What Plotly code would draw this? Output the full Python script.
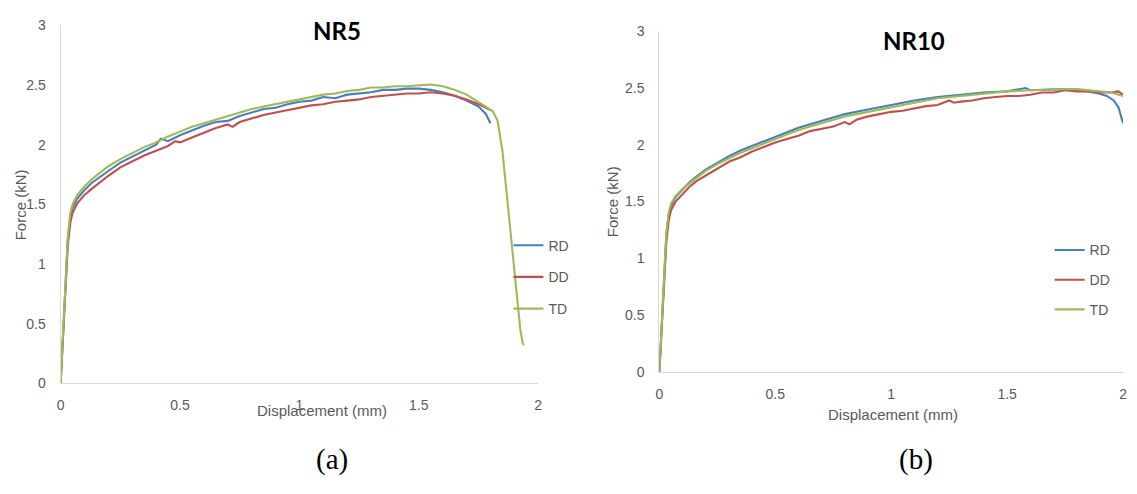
import plotly.graph_objects as go

# ---------------- data ----------------
series_names = ["RD", "DD", "TD"]
colors = ["#4a7ebb", "#c0504d", "#9bbb59"]

x_ticks = [0, 0.5, 1, 1.5, 2]
x_tick_labels = ["0", "0.5", "1", "1.5", "2"]
y_ticks = [0, 0.5, 1, 1.5, 2, 2.5, 3]
y_tick_labels = ["0", "0.5", "1", "1.5", "2", "2.5", "3"]

# NR5
nr5_rd_x = [0, 0.01, 0.02, 0.03, 0.04, 0.05, 0.07, 0.1, 0.13, 0.16, 0.2, 0.25, 0.3, 0.35, 0.4, 0.42, 0.45, 0.5, 0.55, 0.6,
            0.65, 0.7, 0.75, 0.8, 0.85, 0.9, 0.95, 1.0, 1.05, 1.1, 1.15, 1.2, 1.25, 1.3, 1.35, 1.4, 1.45, 1.5,
            1.55, 1.6, 1.65, 1.7, 1.75, 1.78, 1.8]
nr5_rd_y = [0, 0.38, 0.8, 1.2, 1.38, 1.47, 1.55, 1.62, 1.68, 1.72, 1.78, 1.85, 1.9, 1.95, 2.0, 2.05, 2.03, 2.08, 2.12, 2.16,
            2.19, 2.2, 2.24, 2.27, 2.3, 2.31, 2.34, 2.36, 2.37, 2.4, 2.39, 2.42, 2.43, 2.44, 2.46, 2.46, 2.47, 2.47,
            2.46, 2.44, 2.41, 2.37, 2.32, 2.26, 2.18]

nr5_dd_x = [0, 0.01, 0.02, 0.03, 0.04, 0.05, 0.07, 0.1, 0.13, 0.16, 0.2, 0.25, 0.3, 0.35, 0.4, 0.45, 0.48, 0.5, 0.55, 0.6,
            0.65, 0.7, 0.72, 0.75, 0.8, 0.85, 0.9, 0.95, 1.0, 1.05, 1.1, 1.15, 1.2, 1.25, 1.3, 1.35, 1.4, 1.45, 1.5,
            1.55, 1.6, 1.65, 1.7, 1.75, 1.8]
nr5_dd_y = [0, 0.36, 0.78, 1.15, 1.34, 1.43, 1.51, 1.58, 1.63, 1.68, 1.74, 1.81, 1.86, 1.91, 1.95, 1.99, 2.03, 2.02, 2.06, 2.1,
            2.14, 2.17, 2.15, 2.19, 2.22, 2.25, 2.27, 2.29, 2.31, 2.33, 2.34, 2.36, 2.37, 2.38, 2.4, 2.41, 2.42, 2.43, 2.43,
            2.44, 2.43, 2.41, 2.38, 2.34, 2.29]

nr5_td_x = [0, 0.01, 0.02, 0.03, 0.04, 0.05, 0.07, 0.1, 0.13, 0.16, 0.2, 0.25, 0.3, 0.35, 0.4, 0.45, 0.5, 0.55, 0.6,
            0.65, 0.7, 0.75, 0.8, 0.85, 0.9, 0.95, 1.0, 1.05, 1.1, 1.15, 1.2, 1.25, 1.3, 1.35, 1.4, 1.45, 1.5,
            1.55, 1.6, 1.65, 1.7, 1.75, 1.78, 1.81, 1.83, 1.85, 1.87, 1.89, 1.91, 1.925, 1.935, 1.94]
nr5_td_y = [0, 0.4, 0.82, 1.22, 1.42, 1.5, 1.58, 1.65, 1.71, 1.76, 1.82, 1.88, 1.93, 1.98, 2.02, 2.07, 2.11, 2.15, 2.18,
            2.21, 2.24, 2.27, 2.3, 2.32, 2.34, 2.36, 2.38, 2.4, 2.42, 2.43, 2.45, 2.46, 2.48, 2.48, 2.49, 2.49, 2.5,
            2.505, 2.49, 2.46, 2.42, 2.36, 2.32, 2.28, 2.2, 1.95, 1.55, 1.1, 0.7, 0.45, 0.34, 0.32]

# NR10
nr10_rd_x = [0, 0.01, 0.02, 0.03, 0.04, 0.05, 0.07, 0.1, 0.13, 0.16, 0.2, 0.25, 0.3, 0.35, 0.4, 0.45, 0.5, 0.55, 0.6,
             0.65, 0.7, 0.75, 0.8, 0.85, 0.9, 0.95, 1.0, 1.1, 1.2, 1.3, 1.4, 1.5, 1.58, 1.6, 1.7, 1.75, 1.8,
             1.85, 1.9, 1.93, 1.96, 1.98, 2.0]
nr10_rd_y = [0, 0.4, 0.82, 1.2, 1.38, 1.46, 1.54, 1.61, 1.67, 1.72, 1.78, 1.84, 1.9, 1.95, 1.99, 2.03, 2.07, 2.11, 2.15,
             2.18, 2.21, 2.24, 2.27, 2.29, 2.31, 2.33, 2.35, 2.39, 2.42, 2.44, 2.46, 2.47, 2.5, 2.48, 2.49, 2.49, 2.48,
             2.47, 2.45, 2.43, 2.39, 2.33, 2.19]

nr10_dd_x = [0, 0.01, 0.02, 0.03, 0.04, 0.05, 0.07, 0.1, 0.13, 0.16, 0.2, 0.25, 0.3, 0.35, 0.4, 0.45, 0.5, 0.55, 0.6,
             0.65, 0.7, 0.75, 0.8, 0.82, 0.85, 0.9, 0.95, 1.0, 1.05, 1.1, 1.15, 1.2, 1.25, 1.27, 1.3, 1.35, 1.4, 1.45,
             1.5, 1.55, 1.6, 1.65, 1.7, 1.75, 1.8, 1.85, 1.9, 1.95, 1.98, 2.0]
nr10_dd_y = [0, 0.36, 0.78, 1.14, 1.33, 1.42, 1.5, 1.57, 1.63, 1.68, 1.73, 1.79, 1.85, 1.89, 1.94, 1.98, 2.02, 2.05, 2.08,
             2.12, 2.14, 2.16, 2.2, 2.18, 2.22, 2.25, 2.27, 2.29, 2.3, 2.32, 2.34, 2.35, 2.39, 2.37, 2.38, 2.39, 2.41, 2.42,
             2.43, 2.43, 2.44, 2.46, 2.46, 2.48, 2.47, 2.47, 2.46, 2.46, 2.47, 2.44]

nr10_td_x = [0, 0.01, 0.02, 0.03, 0.04, 0.05, 0.07, 0.1, 0.13, 0.16, 0.2, 0.25, 0.3, 0.35, 0.4, 0.45, 0.5, 0.55, 0.6,
             0.65, 0.7, 0.75, 0.8, 0.85, 0.9, 0.95, 1.0, 1.1, 1.2, 1.3, 1.4, 1.5, 1.6, 1.7, 1.75, 1.8, 1.85, 1.9,
             1.95, 2.0]
nr10_td_y = [0, 0.41, 0.84, 1.22, 1.4, 1.48, 1.55, 1.61, 1.66, 1.71, 1.77, 1.83, 1.88, 1.93, 1.97, 2.01, 2.05, 2.09, 2.13,
             2.16, 2.19, 2.22, 2.25, 2.27, 2.29, 2.31, 2.33, 2.37, 2.41, 2.43, 2.45, 2.47, 2.48, 2.49, 2.49, 2.49, 2.48, 2.47,
             2.46, 2.43]

panels = [
    {"x": [nr5_rd_x, nr5_dd_x, nr5_td_x], "y": [nr5_rd_y, nr5_dd_y, nr5_td_y]},
    {"x": [nr10_rd_x, nr10_dd_x, nr10_td_x], "y": [nr10_rd_y, nr10_dd_y, nr10_td_y]},
]

# ---------------- layout geometry ----------------
W, H = 1137, 494
def px_x(p): return p / W
def px_y(p): return (H - p) / H

x_domains = [[px_x(57), px_x(538)], [px_x(660), px_x(1127)]]
y_domains = [[px_y(388), px_y(18)], [px_y(376), px_y(24)]]

tick_font = dict(family="Liberation Sans, Arial, sans-serif", size=14, color="#595959")

fig = go.Figure()
legend_names = ["legend", "legend2"]
for i, p in enumerate(panels):
    xa = "x" if i == 0 else "x2"
    ya = "y" if i == 0 else "y2"
    for k, name in enumerate(series_names):
        fig.add_trace(go.Scatter(
            x=p["x"][k], y=p["y"][k], mode="lines", name=name,
            line=dict(color=colors[k], width=2.1),
            xaxis=xa, yaxis=ya, legend=legend_names[i],
            legendgroup=f"{i}{name}", showlegend=True,
        ))

axis_common = dict(range=[0, 2], tickvals=x_ticks, ticktext=x_tick_labels, showgrid=False,
                   zeroline=False, showline=True, linecolor="#d9d9d9", linewidth=1,
                   ticks="", tickfont=tick_font, fixedrange=True, ticklabelstandoff=9)
yaxis_common = dict(range=[0, 3], tickvals=y_ticks, ticktext=y_tick_labels, showgrid=False,
                    zeroline=False, showline=True, linecolor="#d9d9d9", linewidth=1,
                    ticks="", tickfont=tick_font, fixedrange=True, ticklabelstandoff=11)

legend_font = dict(family="Liberation Sans, Arial, sans-serif", size=14, color="#595959")
fig.update_layout(
    width=W, height=H,
    margin=dict(l=0, r=0, t=0, b=0),
    paper_bgcolor="white", plot_bgcolor="white",
    xaxis=dict(domain=x_domains[0], anchor="y", **axis_common),
    yaxis=dict(domain=y_domains[0], anchor="x", **yaxis_common),
    xaxis2=dict(domain=x_domains[1], anchor="y2", **axis_common),
    yaxis2=dict(domain=y_domains[1], anchor="x2", **yaxis_common),
    legend=dict(x=px_x(508), y=px_y(229), xanchor="left", yanchor="top", font=legend_font,
                bgcolor="rgba(0,0,0,0)", tracegroupgap=10.5, itemwidth=30),
    legend2=dict(x=px_x(1053), y=px_y(234), xanchor="left", yanchor="top", font=legend_font,
                 bgcolor="rgba(0,0,0,0)", tracegroupgap=8.5, itemwidth=30),
    showlegend=True,
)

ann_font = dict(family="Liberation Sans, Arial, sans-serif", size=15, color="#595959")
title_font = dict(family="Lato, Open Sans, sans-serif", size=24, color="black")
cap_font = dict(family="Liberation Serif, Times New Roman, serif", size=29, color="black")

annotations = [
    # titles
    dict(text="<b>NR5</b>", x=px_x(335), y=px_y(23), font=title_font),
    dict(text="<b>NR10</b>", x=px_x(916), y=px_y(34), font=title_font),
    # axis titles
    dict(text="Displacement (mm)", x=px_x(320), y=px_y(416), font=ann_font),
    dict(text="Displacement (mm)", x=px_x(895), y=px_y(420), font=ann_font),
    dict(text="Force (kN)", x=px_x(17), y=px_y(203), font=ann_font, textangle=-90),
    dict(text="Force (kN)", x=px_x(613), y=px_y(200), font=ann_font, textangle=-90),
    # captions
    dict(text="(a)", x=px_x(330), y=px_y(467), font=cap_font),
    dict(text="(b)", x=px_x(918), y=px_y(467), font=cap_font),
]
for a in annotations:
    a.update(xref="paper", yref="paper", showarrow=False, xanchor="center", yanchor="middle")
fig.update_layout(annotations=annotations)

fig.write_html("out.html")
